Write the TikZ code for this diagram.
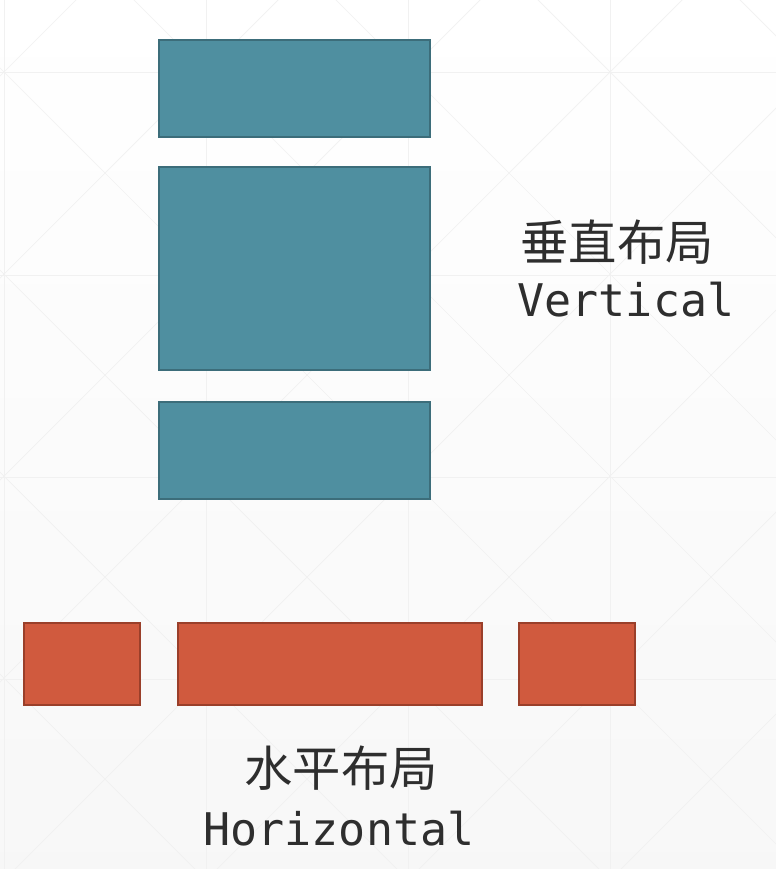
\documentclass[tikz,border=0pt]{standalone}
\usepackage{fontspec}
\setmonofont{DejaVu Sans Mono}
\newfontfamily\cjk{Noto Sans CJK SC}
\usetikzlibrary{positioning}
\definecolor{TealFill}{HTML}{4F8FA0}
\definecolor{TealLine}{HTML}{3C6D7A}
\definecolor{RustFill}{HTML}{D05A3E}
\definecolor{RustLine}{HTML}{9A3F2A}
\definecolor{GridLine}{HTML}{F1F1F1}
\definecolor{LabelText}{HTML}{2E2E2E}

\begin{document}
\begin{tikzpicture}[x=0.02cm, y=-0.02cm,
    vbox/.style={draw=TealLine, fill=TealFill, line width=1.2pt, inner sep=0pt, outer sep=0pt, minimum width=5.42cm},
    hbox/.style={draw=RustLine, fill=RustFill, line width=1.2pt, inner sep=0pt, outer sep=0pt, minimum height=1.64cm},
    cnlabel/.style={text=LabelText, inner sep=0pt, font=\cjk\fontsize{27.5pt}{30pt}\selectfont},
    enlabel/.style={text=LabelText, inner sep=0pt, anchor=base, font=\ttfamily\fontsize{25.6pt}{30pt}\selectfont}]
    \useasboundingbox (0,0) rectangle (776,869);
    \shade[top color=white, bottom color=black!3] (0,0) rectangle (776,869);
    \begin{scope}
      \clip (0,0) rectangle (776,869);
      \foreach \gx in {4,206,408,610} \draw[GridLine, line width=0.5pt] (\gx,0) -- (\gx,869);
      \foreach \gy in {72,275,477,679} \draw[GridLine, line width=0.5pt] (0,\gy) -- (776,\gy);
      \foreach \c in {-876,-674,-472,-270,-68,134,336,538,740} \draw[GridLine, line width=0.4pt] (\c-100,-100) -- (\c+1000,1000);
      \foreach \c in {-126,76,278,480,682,884,1086,1288,1490,1692} \draw[GridLine, line width=0.4pt] (\c+100,-100) -- (\c-1000,1000);
    \end{scope}

    \node[vbox, minimum height=1.94cm] (vtop) at (294.5,88.5) {};
    \node[vbox, minimum height=4.06cm, below=0.6cm of vtop] (vmid) {};
    \node[vbox, minimum height=1.94cm, below=0.64cm of vmid] (vbot) {};

    \node[hbox, minimum width=2.32cm] (hleft) at (82,664) {};
    \node[hbox, minimum width=6.08cm, right=0.76cm of hleft] (hmid) {};
    \node[hbox, minimum width=2.32cm, right=0.74cm of hmid] (hright) {};

    \node[cnlabel] (vcn) at (617,242) {垂直布局};
    \node[enlabel] (ven) at (626,316) {Vertical};
    \node[cnlabel] (hcn) at (341,768) {水平布局};
    \node[enlabel] (hen) at (339,845) {Horizontal};
  \end{tikzpicture}
\end{document}
